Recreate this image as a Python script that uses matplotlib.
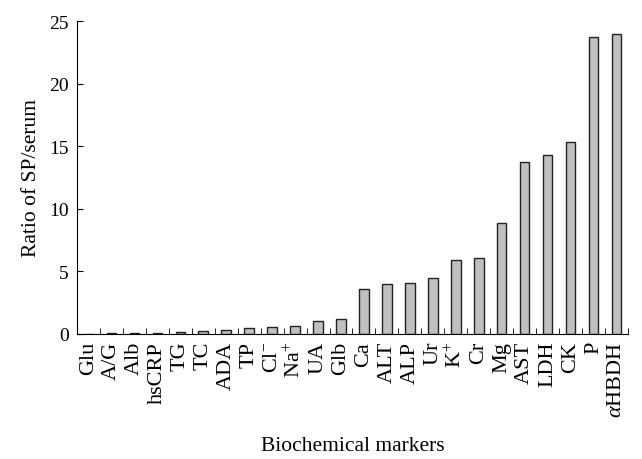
import numpy as np
import matplotlib.pyplot as plt

markers = ['Glu', 'A/G', 'Alb', 'hsCRP', 'TG', 'TC', 'ADA', 'TP', 'Cl$^{-}$', 'Na$^{+}$',
           'UA', 'Glb', 'Ca', 'ALT', 'ALP', 'Ur', 'K$^{+}$', 'Cr', 'Mg', 'AST', 'LDH',
           'CK', 'P', r'$\alpha$HBDH']
ratios = [0.02, 0.05, 0.06, 0.10, 0.12, 0.20, 0.30, 0.45, 0.55, 0.65,
          1.05, 1.20, 3.60, 4.00, 4.05, 4.50, 5.90, 6.10, 8.90, 13.70, 14.30,
          15.35, 23.70, 24.00]

plt.rcParams['font.family'] = ['Liberation Serif', 'DejaVu Serif']
plt.rcParams['mathtext.fontset'] = 'custom'
plt.rcParams['mathtext.rm'] = 'Liberation Serif'
plt.rcParams['mathtext.it'] = 'Liberation Serif:italic'

fig = plt.figure(figsize=(6.42, 4.6), dpi=100)
ax = fig.add_axes([0.12, 0.272, 0.858, 0.68])

x = np.arange(len(markers))
ax.bar(x, ratios, width=0.42, color='#c0c0c0', edgecolor='#222222', linewidth=1.0)

ax.set_xlim(-0.5, len(markers) - 0.5)
ax.set_ylim(0, 25)
ax.set_yticks([0, 5, 10, 15, 20, 25])
ax.set_xticks(x)
ax.set_xticklabels(markers, rotation=90, fontsize=16)
ax.set_xticks(np.arange(-0.5, len(markers)), minor=True)
ax.tick_params(axis='x', which='major', length=0, pad=5)
ax.tick_params(axis='x', which='minor', direction='in', length=4)
ax.tick_params(axis='y', direction='in', length=4, labelsize=14, pad=6)

for s in ['top', 'right']:
    ax.spines[s].set_visible(False)

ax.set_ylabel('Ratio of SP/serum', fontsize=15.5, labelpad=6)
ax.set_xlabel('Biochemical markers', fontsize=15.5, labelpad=14)

fig.savefig('out.png', dpi=100)
